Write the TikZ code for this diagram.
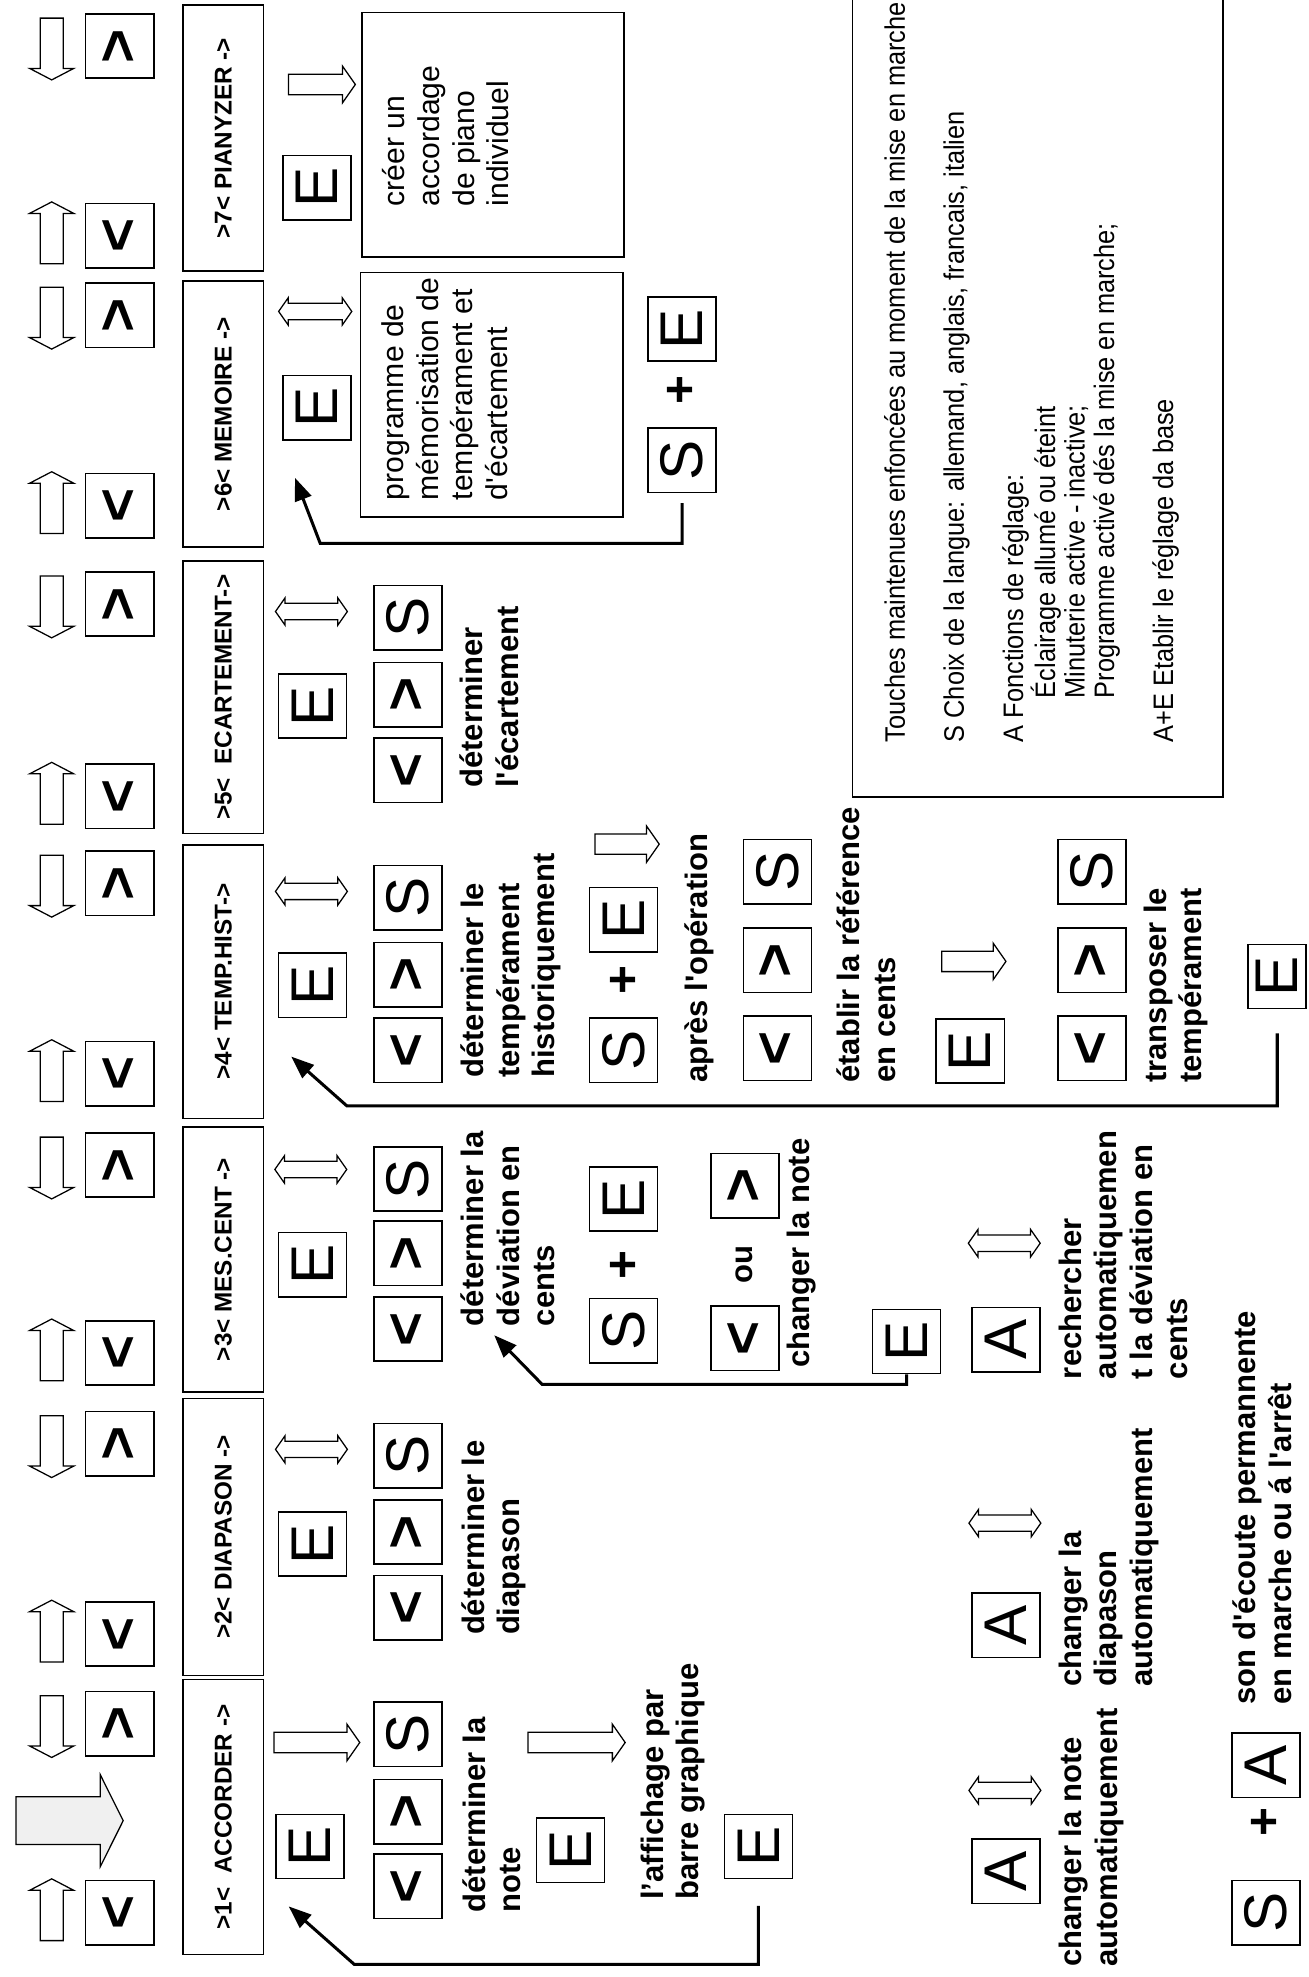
\documentclass[tikz,border=0pt]{standalone}
\usepackage{fontspec}
\setmainfont{Liberation Sans}[Ligatures=TeXOff]
\newfontfamily\infofont{Liberation Sans}[FakeStretch=0.9, Ligatures=TeXOff]
\usetikzlibrary{arrows.meta,shapes.arrows}

\newcommand{\vt}[1]{\rotatebox{90}{#1}}

\begin{document}
\begin{tikzpicture}[x=0.25mm, y=-0.25mm, >={Triangle[length=4.5mm,width=3.4mm]}]
  \tikzstyle{key} = [draw, line width=0.3mm, minimum width=13.5mm, minimum height=12.75mm, inner sep=0pt, font=\fontsize{34}{34}\selectfont];
  \tikzstyle{chev} = [key, font=\fontsize{33}{33}\selectfont\bfseries];
  \tikzstyle{plus} = [inner sep=0pt, font=\fontsize{28}{28}\selectfont\bfseries];
  \tikzstyle{menu} = [draw, line width=0.3mm, rotate=90, minimum height=16mm, inner sep=0pt, font=\fontsize{13.7}{16}\selectfont\bfseries];
  \tikzstyle{panel} = [draw, line width=0.3mm, inner sep=0pt];
  \tikzstyle{lab} = [rotate=90, anchor=base west, align=left, inner sep=0pt, font=\fontsize{17.5}{20}\selectfont\bfseries];
  \tikzstyle{txt} = [rotate=90, anchor=base west, align=left, inner sep=0pt, font=\fontsize{17}{19.6}\selectfont];
  \tikzstyle{info} = [rotate=90, anchor=base west, align=left, inner sep=0pt, font=\infofont\fontsize{15.9}{16.6}\selectfont];
  \tikzstyle{vup} = [draw, line width=0.25mm, single arrow, single arrow head extend=2.1mm, single arrow tip angle=125, minimum width=8.5mm, minimum height=12.25mm, inner xsep=0pt, inner ysep=2.15mm];
  \tikzstyle{harr} = [draw, line width=0.25mm, single arrow, single arrow head extend=1.6mm, single arrow tip angle=110, minimum width=7mm, inner xsep=0pt, inner ysep=1.9mm];
  \tikzstyle{dbl} = [draw, line width=0.25mm, double arrow, double arrow head extend=1.1mm, double arrow tip angle=110, minimum width=5.25mm, minimum height=14.25mm, inner xsep=0pt, inner ysep=1.5mm];
  \tikzstyle{bigarr} = [draw, line width=0.25mm, fill=gray!12, single arrow, single arrow head extend=4.4mm, single arrow tip angle=127, minimum width=18mm, minimum height=21.25mm, inner xsep=0pt, inner ysep=4.6mm];
  \tikzstyle{back} = [->, line width=0.6mm];

  \useasboundingbox (0,0) rectangle (1038,1568);
  \clip (0,0) rectangle (1038,1568);
  \fill[white] (0,0) rectangle (1038,1568);

  % keys and arrows along the menu
  \foreach \n/\a/\b in {7/36.5/187, 6/250/401, 5/479/631.5, 4/700.5/851.5, 3/924/1073, 2/1145/1296, 1/1367/1517} {
    \node[vup, rotate=-90] (dn\n) at (41,\a) {};
    \node[chev] (gt\n) at (95,\a) {\vt{>}};
    \node[vup, rotate=90] (up\n) at (41,\b) {};
    \node[chev] (lt\n) at (95,\b) {\vt{<}};
  }
  \node[bigarr] (go) at (50.5,1444) {};

  \node[menu, minimum width=54.5mm] (m1) at (177,1441) {>1<\ \ ACCORDER ->};
  \node[menu, minimum width=55mm] (m2) at (177,1219) {>2< DIAPASON ->};
  \node[menu, minimum width=52.5mm] (m3) at (177,999) {>3< MES.CENT ->};
  \node[menu, minimum width=54.25mm] (m4) at (177,778.5) {>4< TEMP.HIST->};
  \node[menu, minimum width=54mm] (m5) at (177,553) {>5<\ \ ECARTEMENT->};
  \node[menu, minimum width=52.75mm] (m6) at (177,328.5) {>6< MEMOIRE ->};
  \node[menu, minimum width=52.75mm] (m7) at (177,109.5) {>7< PIANYZER ->};

  % 1 accorder
  \node[harr, minimum height=17mm] (a1) at (248.5,1382) {};
  \node[key] (e1) at (246,1464.5) {\vt{E}};
  \node[key] (s1) at (323.5,1375.5) {\vt{S}};
  \node[chev] (g1) at (323.5,1437) {\vt{>}};
  \node[chev] (l1) at (323.5,1496) {\vt{<}};
  \node[lab] (t1) at (413,1517) {déterminer la\\note};
  \node[harr, minimum height=19.25mm] (a1b) at (454.5,1382) {};
  \node[key] (e1b) at (452.5,1467.5) {\vt{E}};
  \node[lab] (t1b) at (554,1507) {l’affichage par\\barre graphique};
  \node[key] (e1c) at (601.5,1464.5) {\vt{E}};
  \coordinate (c1) at (229,1512);
  \draw[back, shorten <=5.25mm] (e1c.south) |- (281,1558) -- (c1);
  \node[dbl] (d1a) at (797,1420) {};
  \node[key] (a1a) at (798,1484) {\vt{A}};
  \node[lab] (t1a) at (886,1560) {changer la note\\automatiquement};
  \node[key] (s0) at (1004,1517) {\vt{S}};
  \node[plus] (p0) at (1004,1445) {\vt{+}};
  \node[key] (a0) at (1004,1400) {\vt{A}};
  \node[lab] (t0) at (1024,1352) {son d'écoute permannente\\en marche ou á l'arrêt};

  % 2 diapason
  \node[dbl] (d2) at (247,1149.5) {};
  \node[key] (e2) at (248,1224.5) {\vt{E}};
  \node[key] (s2) at (323.5,1154.5) {\vt{S}};
  \node[chev] (g2) at (323.5,1215) {\vt{>}};
  \node[chev] (l2) at (323.5,1275) {\vt{<}};
  \node[lab] (t2) at (412,1297) {déterminer le\\diapason};
  \node[dbl] (d2a) at (797,1208) {};
  \node[key] (a2) at (798,1289) {\vt{A}};
  \node[lab] (t2a) at (914,1338) {changer la\\diapason\\automatiquement};

  % 3 mes.cent
  \node[dbl] (d3) at (246.5,927.5) {};
  \node[key] (e3) at (248,1003) {\vt{E}};
  \node[key] (s3) at (323.5,935) {\vt{S}};
  \node[chev] (g3) at (323.5,994) {\vt{>}};
  \node[chev] (l3) at (323.5,1054) {\vt{<}};
  \node[lab] (t3) at (440,1052) {déterminer la\\déviation en\\cents};
  \node[key] (s3b) at (494.5,1055.5) {\vt{S}};
  \node[plus] (p3) at (496,1003) {\vt{+}};
  \node[key] (e3b) at (494.5,951) {\vt{E}};
  \node[chev] (l3b) at (591,1061.5) {\vt{<}};
  \node[lab, anchor=base] (ou) at (597,1003) {ou};
  \node[chev] (g3b) at (591,940.5) {\vt{>}};
  \node[lab] (t3b) at (642,1085) {changer la note};
  \node[key] (e3c) at (719,1064) {\vt{E}};
  \coordinate (c3) at (392,1059);
  \draw[back] (e3c.south) |- (430,1098) -- (c3);
  \node[dbl] (d3a) at (796.5,986) {};
  \node[key] (a3) at (798,1062.5) {\vt{A}};
  \node[lab] (t3c) at (942,1094) {rechercher\\automatiquemen\\t la déviation en\\cents};

  % 4 temp.hist
  \node[dbl] (d4) at (247,707) {};
  \node[key] (e4) at (248,781.5) {\vt{E}};
  \node[key] (s4) at (323.5,712) {\vt{S}};
  \node[chev] (g4) at (323.5,773) {\vt{>}};
  \node[chev] (l4) at (323.5,833) {\vt{<}};
  \node[lab] (t4) at (440,855) {déterminer le\\tempérament\\historiquement};
  \node[key] (s4b) at (494.5,833) {\vt{S}};
  \node[plus] (p4) at (496,777) {\vt{+}};
  \node[key] (e4b) at (494.5,729.5) {\vt{E}};
  \node[harr, minimum height=12.75mm] (a4) at (494.5,669.5) {};
  \node[lab] (t4b) at (561,859) {après l'opération};
  \node[chev] (l4b) at (616.5,831.5) {\vt{<}};
  \node[chev] (g4b) at (616.5,761.5) {\vt{>}};
  \node[key] (s4c) at (616.5,691.5) {\vt{S}};
  \node[lab] (t4c) at (710,859) {établir la référence\\en cents};
  \node[key] (e4c) at (769.5,833.5) {\vt{E}};
  \node[harr, minimum height=12.75mm] (a4b) at (769.5,762.5) {};
  \node[chev] (l4c) at (866,831.5) {\vt{<}};
  \node[chev] (g4c) at (866,761.5) {\vt{>}};
  \node[key] (s4d) at (866,691.5) {\vt{S}};
  \node[lab] (t4d) at (953,859) {transposer le\\tempérament};
  \node[key, minimum width=11.5mm] (e4d) at (1013,774.5) {\vt{E}};
  \coordinate (c4) at (231,838);
  \draw[back, shorten <=4.75mm] (e4d.south) |- (275,877) -- (c4);

  % 5 ecartement
  \node[dbl] (d5) at (247,485) {};
  \node[key] (e5) at (248,560) {\vt{E}};
  \node[key] (s5) at (323.5,490) {\vt{S}};
  \node[chev] (g5) at (323.5,551) {\vt{>}};
  \node[chev] (l5) at (323.5,611) {\vt{<}};
  \node[lab] (t5) at (411,625) {déterminer\\l'écartement};

  % 6 memoire
  \node[dbl, minimum height=14.5mm] (d6) at (250,247) {};
  \node[key] (e6) at (251.5,323.5) {\vt{E}};
  \node[panel, minimum width=52mm, minimum height=48.5mm] (b6) at (390,313) {};
  \node[txt] (t6) at (402.5,397) {programme de\\mémorisation de\\tempérament et\\d'écartement};
  \node[key] (s6) at (541,365) {\vt{S}};
  \node[plus] (p6) at (541,309) {\vt{+}};
  \node[key] (e6b) at (541,261) {\vt{E}};
  \coordinate (c6) at (234,379);
  \draw[back, shorten <=2mm] (s6.south) |- (254,431) -- (c6);

  % 7 pianyzer
  \node[harr, minimum height=13.25mm] (a7) at (252.5,67) {};
  \node[key] (e7) at (251.5,149) {\vt{E}};
  \node[panel, minimum width=52mm, minimum height=48.5mm] (b7) at (391,107) {};
  \node[txt] (t7) at (403.5,164) {créer un\\accordage\\de piano\\individuel};

  % keys held at power on
  \node[panel, minimum width=73.5mm, minimum height=160.5mm] (b8) at (823,311) {};
  \node[info] (t8) at (930.5,589) {Touches maintenues enfoncées au moment de la mise en marche:\\[5.9mm]
    S Choix de la langue: allemand, anglais, francais, italien\\[5.9mm]
    A Fonctions de réglage:\\
    \hspace*{8.75mm}Éclairage allumé ou éteint\\
    \hspace*{8.75mm}Minuterie active - inactive;\\
    \hspace*{8.75mm}Programme activé dés la mise en marche;\\[5.9mm]
    A+E Etablir le réglage da base};
\end{tikzpicture}
\end{document}
